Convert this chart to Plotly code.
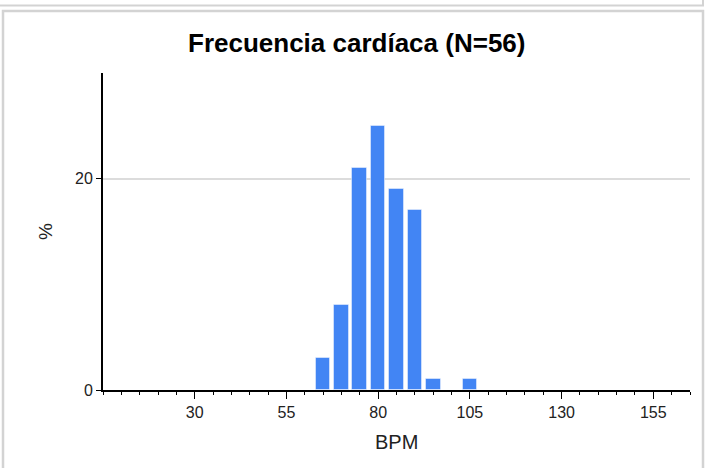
import plotly.graph_objects as go

# Data
bin_centers = [65, 70, 75, 80, 85, 90, 95, 105]
percent = [3, 8, 21, 25, 19, 17, 1, 1]
x_tick_vals = [30, 55, 80, 105, 130, 155]
y_tick_vals = [0, 20]

W, H = 711, 468
L, R, T, B = 103, 21, 73, 78
PW, PH = W - L - R, H - T - B


def px(x):
    return (x - L) / PW


def py(y):
    return (H - B - y) / PH


fig = go.Figure()
fig.add_trace(go.Bar(
    x=bin_centers, y=percent, width=4,
    marker=dict(color="#4285f4", line=dict(color="rgba(255,255,255,0.45)", width=1)),
))

shapes = []
gray = "#d3d3d3"
# frame decorations (card borders)
shapes.append(dict(type="rect", xref="paper", yref="paper",
                   x0=px(-5), x1=px(703), y0=py(-20), y1=py(5.5),
                   line=dict(color=gray, width=2), fillcolor="rgba(0,0,0,0)"))
shapes.append(dict(type="rect", xref="paper", yref="paper",
                   x0=px(3), x1=px(703), y0=py(480), y1=py(11),
                   line=dict(color=gray, width=2.5), fillcolor="rgba(0,0,0,0)"))

fig.update_layout(
    width=W, height=H,
    margin=dict(l=L, r=R, t=T, b=B, pad=0),
    paper_bgcolor="white", plot_bgcolor="white",
    font=dict(family="Arial, Liberation Sans, sans-serif", size=16, color="#222"),
    showlegend=False,
    bargap=0,
    shapes=shapes,
    annotations=[
        dict(text="<b>Frecuencia cardíaca (N=56)</b>", xref="paper", yref="paper",
             x=px(356), y=py(43), showarrow=False, xanchor="center", yanchor="middle",
             font=dict(size=26, color="#000")),
        dict(text="BPM", xref="paper", yref="paper", x=px(396), y=py(442),
             showarrow=False, xanchor="center", yanchor="middle",
             font=dict(size=20, color="#222")),
        dict(text="%", xref="paper", yref="paper", x=px(45), y=py(232),
             showarrow=False, xanchor="center", yanchor="middle", textangle=-90,
             font=dict(size=19, color="#222")),
    ],
    xaxis=dict(
        range=[5, 165], tickmode="array", tickvals=x_tick_vals,
        showgrid=False, zeroline=False,
        showline=True, linecolor="black", linewidth=2,
        ticks="outside", ticklen=7, tickcolor="black", tickwidth=1,
        minor=dict(tickmode="array", tickvals=list(range(5, 166, 5)),
                   ticks="outside", ticklen=3, tickcolor="black", tickwidth=1,
                   showgrid=False),
        fixedrange=True,
    ),
    yaxis=dict(
        range=[0, 30], tickmode="array", tickvals=y_tick_vals,
        showgrid=True, gridcolor="#dcdcdc", gridwidth=1.5,
        zeroline=False,
        showline=True, linecolor="black", linewidth=2,
        ticks="outside", ticklen=5, tickcolor="black", tickwidth=1,
        fixedrange=True,
    ),
)

fig.write_html("out.html", config={"displayModeBar": False},
               post_script="document.body.style.margin='0px';document.body.style.padding='0px';")
